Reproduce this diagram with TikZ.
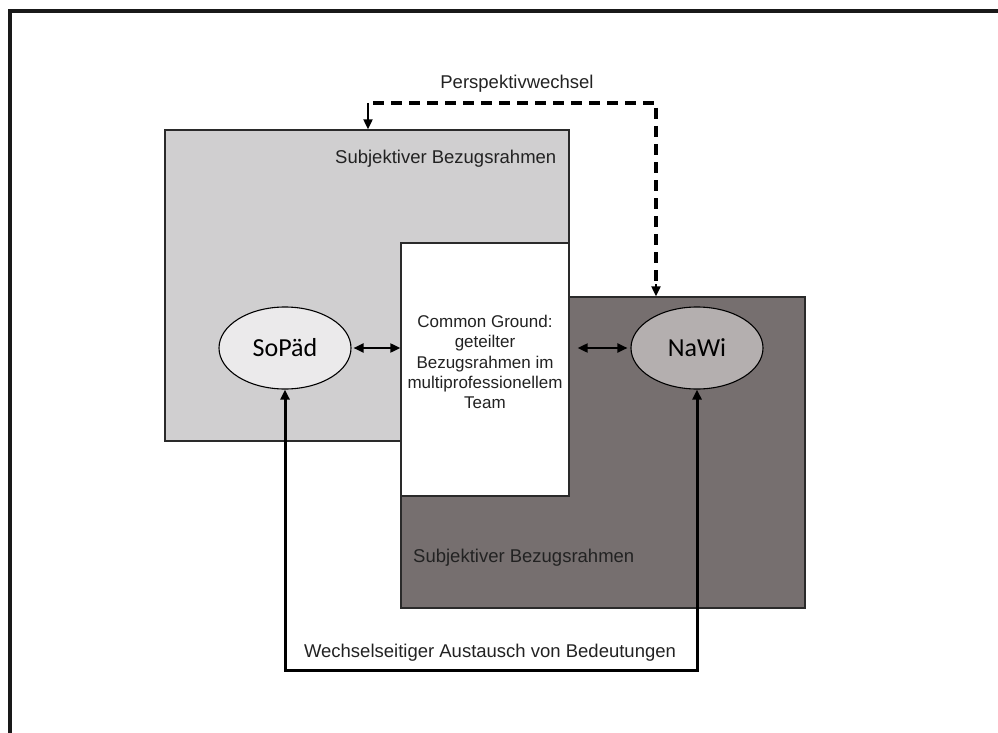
\documentclass[tikz,border=0pt]{standalone}
\usepackage{fontspec}
\setmainfont{Liberation Sans}
\newfontfamily\calib{Carlito}
\usetikzlibrary{arrows.meta,shapes.geometric}
\definecolor{lightfill}{HTML}{D0CFD0}
\definecolor{darkfill}{HTML}{766F6F}
\definecolor{sofill}{HTML}{EBEAEB}
\definecolor{nafill}{HTML}{B4AFAF}
\definecolor{txt}{HTML}{222222}
\definecolor{edge}{HTML}{2A2A2A}
\begin{document}
\begin{tikzpicture}[x=1pt,y=-1pt,
  box/.style={draw=edge, line width=1.3pt, inner sep=0pt, rectangle},
  ell/.style={draw=black, line width=1.1pt, ellipse, inner sep=0pt, minimum width=132pt, minimum height=82pt, text=black, font=\calib\fontsize{26}{30}\selectfont},
  lbl/.style={text=txt, inner sep=0pt, font=\fontsize{18.5}{22}\selectfont},
  tip/.style={-{Triangle[length=10pt,width=9pt]}},
  dtip/.style={{Triangle[length=10pt,width=9pt]}-{Triangle[length=10pt,width=9pt]}}
]
\useasboundingbox (0,0) rectangle (998,733);
% outer frame
\draw[line width=3.5pt, color=black!90] (10,733) -- (10,11) -- (998,11);
% boxes
\node[box, fill=lightfill, minimum width=404pt, minimum height=311pt] (subA) at (367,285.5) {};
\node[box, fill=darkfill, minimum width=404pt, minimum height=311pt] (subB) at (603,452.5) {};
\node[box, fill=white, minimum width=168pt, minimum height=253pt] (common) at (485,369.5) {};
\node[text=txt, inner sep=0pt, align=center, font=\fontsize{17}{20.3}\selectfont] (ctext) at (485,362) {Common Ground:\\geteilter\\Bezugsrahmen im\\multiprofessionellem\\Team};
% ellipses
\node[ell, fill=sofill] (sopaed) at (285,348) {SoPäd};
\node[ell, fill=nafill] (nawi) at (697,348) {NaWi};
% labels
\node[lbl, anchor=base west] (labA) at (335,164) {Subjektiver Bezugsrahmen};
\node[lbl, anchor=base west] (labB) at (413,562) {Subjektiver Bezugsrahmen};
\node[lbl, anchor=base] (persp) at (517,89) {Perspektivwechsel};
\node[lbl, anchor=base] (wechsel) at (490,657) {Wechselseitiger Austausch von Bedeutungen};
% horizontal arrows
\draw[dtip, line width=2pt, shorten <=2pt] (sopaed.east) -- (sopaed.east -| common.west);
\draw[dtip, line width=2pt, shorten <=8pt, shorten >=3pt] (nawi.west -| common.east) -- (nawi.west);
% bottom loop
\coordinate (lb) at (286,670);
\draw[dtip, line width=3pt] (sopaed.south) -- (sopaed.south |- lb) -| (nawi.south);
% Perspektivwechsel dashed
\coordinate (dl) at (368,103);
\coordinate (dr) at (656,103);
\draw[line width=3.8pt, dash pattern=on 11pt off 7pt] (373,103) -- (dr) -- (656,288);
\draw[tip, line width=2pt] (dl) -- (dl |- subA.north);
\draw[tip, line width=2pt] (656,284) -- (dr |- subB.north);
\end{tikzpicture}
\end{document}
